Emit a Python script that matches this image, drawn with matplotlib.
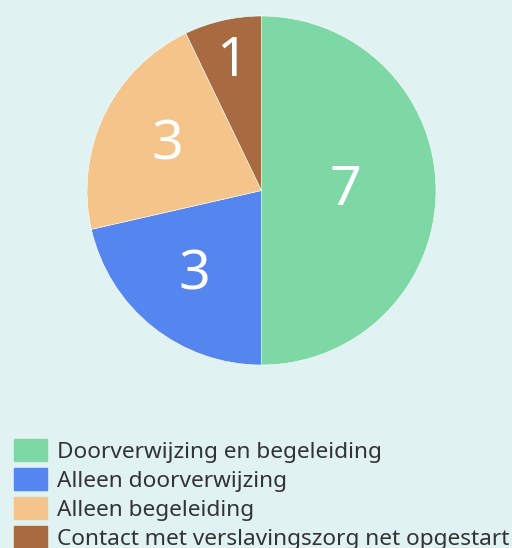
import matplotlib
matplotlib.use("Agg")
import matplotlib.pyplot as plt
import matplotlib.patches as mpatches
import numpy as np

labels = [
    "Doorverwijzing en begeleiding",
    "Alleen doorverwijzing",
    "Alleen begeleiding",
    "Contact met verslavingszorg net opgestart",
]
values = [7, 3, 3, 1]
colors = ["#7dd8a5", "#5585ef", "#f4c48a", "#a86a40"]
label_radius = [0.48, 0.62, 0.6, 0.76]

plt.rcParams["font.family"] = ["Noto Sans", "DejaVu Sans"]
bg = "#e0f3f2"

fig = plt.figure(figsize=(5.12, 5.48), dpi=100, facecolor=bg)
ax = fig.add_axes([87 / 512, 1 - 365 / 548, 349 / 512, 349 / 548])
ax.set_facecolor(bg)

wedges, _ = ax.pie(values, colors=colors, startangle=90, counterclock=False,
                   wedgeprops=dict(edgecolor="#ffffff", linewidth=0.4))
ax.set_aspect("equal")
ax.set_xlim(-1, 1)
ax.set_ylim(-1, 1)

for w, v, r in zip(wedges, values, label_radius):
    mid = np.deg2rad((w.theta1 + w.theta2) / 2)
    ax.text(r * np.cos(mid), r * np.sin(mid), str(v), ha="center", va="center",
            color="white", fontsize=40)

handles = [mpatches.Patch(color=c) for c in colors]
fig.legend(handles, labels, loc="upper left", bbox_to_anchor=(11 / 512, 1 - 436 / 548),
           frameon=False, fontsize=16.3, handlelength=1.42, handleheight=1.1,
           handletextpad=0.48, labelspacing=0.24, borderaxespad=0, borderpad=0.15,
           labelcolor="#333333")

fig.savefig("out.png", dpi=100, facecolor=bg)
